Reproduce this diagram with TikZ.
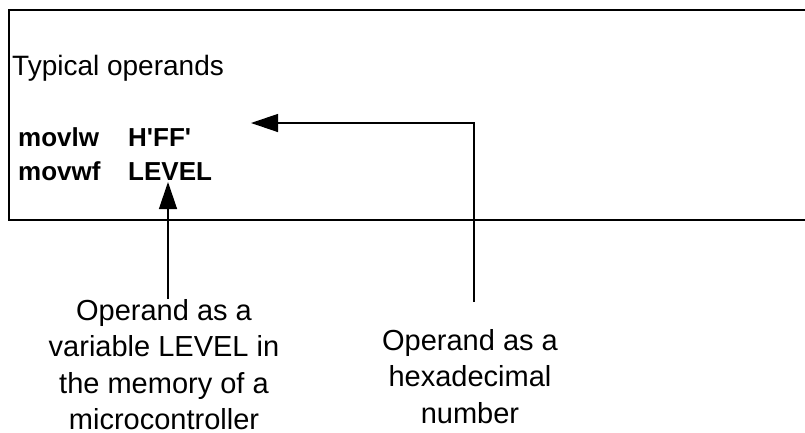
\documentclass[tikz,border=0pt]{standalone}
\usepackage{fontspec}
\setmainfont{Liberation Sans}
\newfontfamily\codefont{Liberation Sans}
\usetikzlibrary{arrows.meta}
\begin{document}
\begin{tikzpicture}[x=1pt,y=-1pt,
  boxline/.style={line width=1.3pt,black},
  conn/.style={line width=1.3pt,black},
  tip/.style={-{Triangle[length=27pt,width=18pt]}},
  plain/.style={inner sep=0pt,font=\fontsize{28}{34}\selectfont},
  code/.style={inner sep=0pt,font=\codefont\fontsize{26}{32}\selectfont\bfseries},
  label/.style={inner sep=0pt,align=center,font=\fontsize{29}{36.5}\selectfont}]
\useasboundingbox[fill=white] (0,0) rectangle (805,432);
% open box
\draw[boxline] (806,10) -- (9,10) -- (9,220) -- (806,220);
% texts in the box
\node[plain,anchor=base west] (title) at (12,75) {Typical operands};
\node[code,anchor=base west] (movlw) at (18,146) {movlw};
\node[code,anchor=base west] (hff) at (128,146) {H'FF'};
\node[code,anchor=base west] (movwf) at (18,180) {movwf};
\node[code,anchor=base west] (level) at (128,180) {LEVEL};
% labels
\node[label,anchor=north] (lvar) at (164,299) {Operand as a\\variable LEVEL in\\the memory of a\\microcontroller};
\node[label,anchor=north] (lhex) at (470,329) {Operand as a\\hexadecimal\\number};
% connectors
\coordinate (hexfoot) at (474,302);
\coordinate (hexcorner) at (474,123);
\coordinate (hextip) at (251,123);
\coordinate (levtip) at (168,182);
\coordinate (levfoot) at (168,299);
\draw[conn,tip] (hexfoot) -- (hexcorner) -- (hextip);
\draw[conn,tip] (levfoot) -- (levtip);
\end{tikzpicture}
\end{document}
